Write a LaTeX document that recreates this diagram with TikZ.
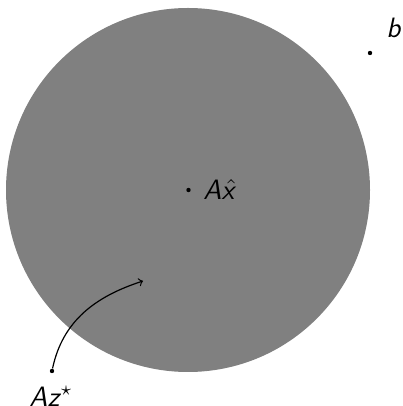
\documentclass[tikz,border=0pt]{standalone}
\newcommand\svar[1]{\textsf{\itshape #1}}
\begin{document}
\begin{tikzpicture}[x=0.5pt,y=0.5pt,
  pt/.style={circle,fill=black,inner sep=0pt,minimum size=2.2pt},
  lbl/.style={inner sep=0pt,anchor=base west,font=\fontsize{14}{16}\selectfont}]
\useasboundingbox (0,0) rectangle (402,406);
\fill[gray] (188,216) circle[radius=182];
\node[pt] (xh) at (188.5,216) {};
\node[lbl] (xhl) at (203,206) {\svar{A}$\skew{3}\hat{\hbox{\svar{x}}}$};
\node[pt] (b) at (370,353) {};
\node[lbl] (bl) at (386,368) {\svar{b}};
\node[pt] (az) at (52,35) {};
\node[lbl] (azl) at (29,0) {\svar{Az}$^{\star}$};
\coordinate (tip) at (143,125);
\draw[->,line width=0.6pt] (az) to[out=78,in=198] (tip);
\end{tikzpicture}
\end{document}
